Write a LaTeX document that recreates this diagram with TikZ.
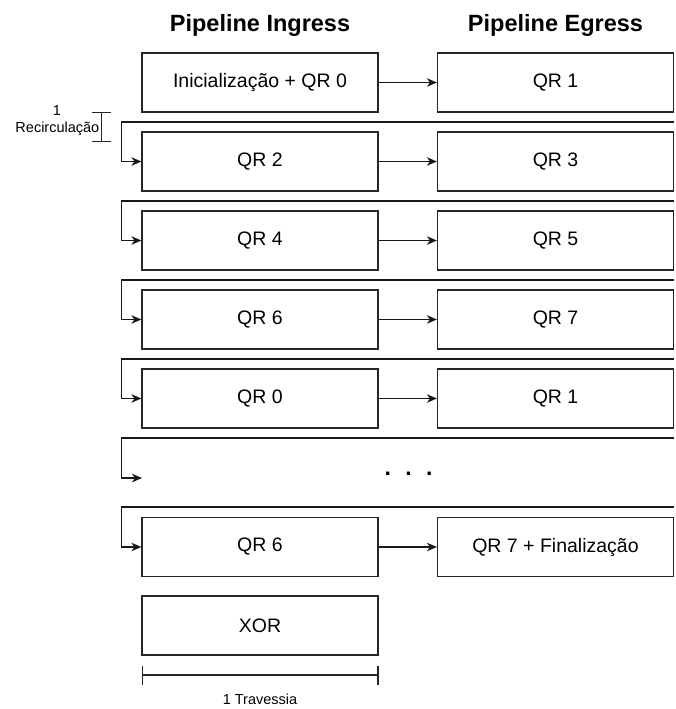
\documentclass[tikz,border=0pt]{standalone}
\usepackage{fontspec}
\setmainfont{Liberation Sans}
\usetikzlibrary{arrows.meta,calc}
\begin{document}
\begin{tikzpicture}[x=1pt,y=-1pt,
  box/.style={draw=black!85,line width=1.2pt,minimum width=236pt,minimum height=59pt,inner sep=0pt,
    font=\fontsize{19.5}{23}\selectfont},
  title/.style={anchor=base,font=\fontsize{23.5}{27}\selectfont\bfseries},
  small/.style={font=\fontsize{14.5}{17}\selectfont,inner sep=0pt},
  arr/.style={draw=black!90,line width=1.2pt,-{Stealth[length=10pt,width=8.5pt,inset=3pt]}},
  dim/.style={draw=black!85,line width=1.1pt,{Bar[width=19pt]}-{Bar[width=19pt]}}
]
\useasboundingbox (0,0) rectangle (675,709);

\node[title] (t1) at (260,31.7) {Pipeline Ingress};
\node[title] (t2) at (555.5,31.7) {Pipeline Egress};

% rows
\node[box] (L1) at (260,82.5) {Inicialização + QR 0};
\node[box] (R1) at (555.5,82.5) {QR 1};
\node[box] (L2) at (260,161.5) {QR 2};
\node[box] (R2) at (555.5,161.5) {QR 3};
\node[box] (L3) at (260,240.5) {QR 4};
\node[box] (R3) at (555.5,240.5) {QR 5};
\node[box] (L4) at (260,319.5) {QR 6};
\node[box] (R4) at (555.5,319.5) {QR 7};
\node[box] (L5) at (260,398.5) {QR 0};
\node[box] (R5) at (555.5,398.5) {QR 1};
\node[box] (L7) at (260,547) {QR 6};
\node[box] (R7) at (555.5,547) {QR 7 + Finalização};
\node[box] (X) at (260,625.5) {XOR};

\node[anchor=base,inner sep=0pt,font=\fontsize{23}{27}\selectfont\bfseries] (dots) at (408.5,475)
  {.\hspace{14.4pt}.\hspace{14.4pt}.};

% ingress -> egress
\foreach \i in {1,2,3,4,5,7} \draw[arr] (L\i.east) -- (R\i.west);

% recirculation loops
\coordinate (lx) at (121.7,0);
\coordinate (s2) at (673.5,122);
\coordinate (s3) at (673.5,201);
\coordinate (s4) at (673.5,280);
\coordinate (s5) at (673.5,359);
\coordinate (s6) at (673.5,438);
\coordinate (s7) at (673.5,507);
\coordinate (e6) at (142,478);
\foreach \i in {2,3,4,5,7} \draw[arr] (s\i) -- (s\i -| lx) |- (L\i.west);
\draw[arr] (s6) -- (s6 -| lx) |- (e6);

% recirculation dimension
\coordinate (r1) at (101.7,112.3);
\coordinate (r2) at (101.7,141.7);
\draw[dim] (r1) -- (r2);
\node[small,anchor=base] (one) at (57,115) {1};
\node[small,anchor=base east] (rec) at (99.5,132) {Recirculação};

% traversal dimension
\coordinate (d1) at (141.5,675);
\coordinate (d2) at (378.5,675);
\draw[dim] (d1) -- (d2);
\node[small,anchor=base] (trav) at (260,704) {1 Travessia};
\end{tikzpicture}
\end{document}
